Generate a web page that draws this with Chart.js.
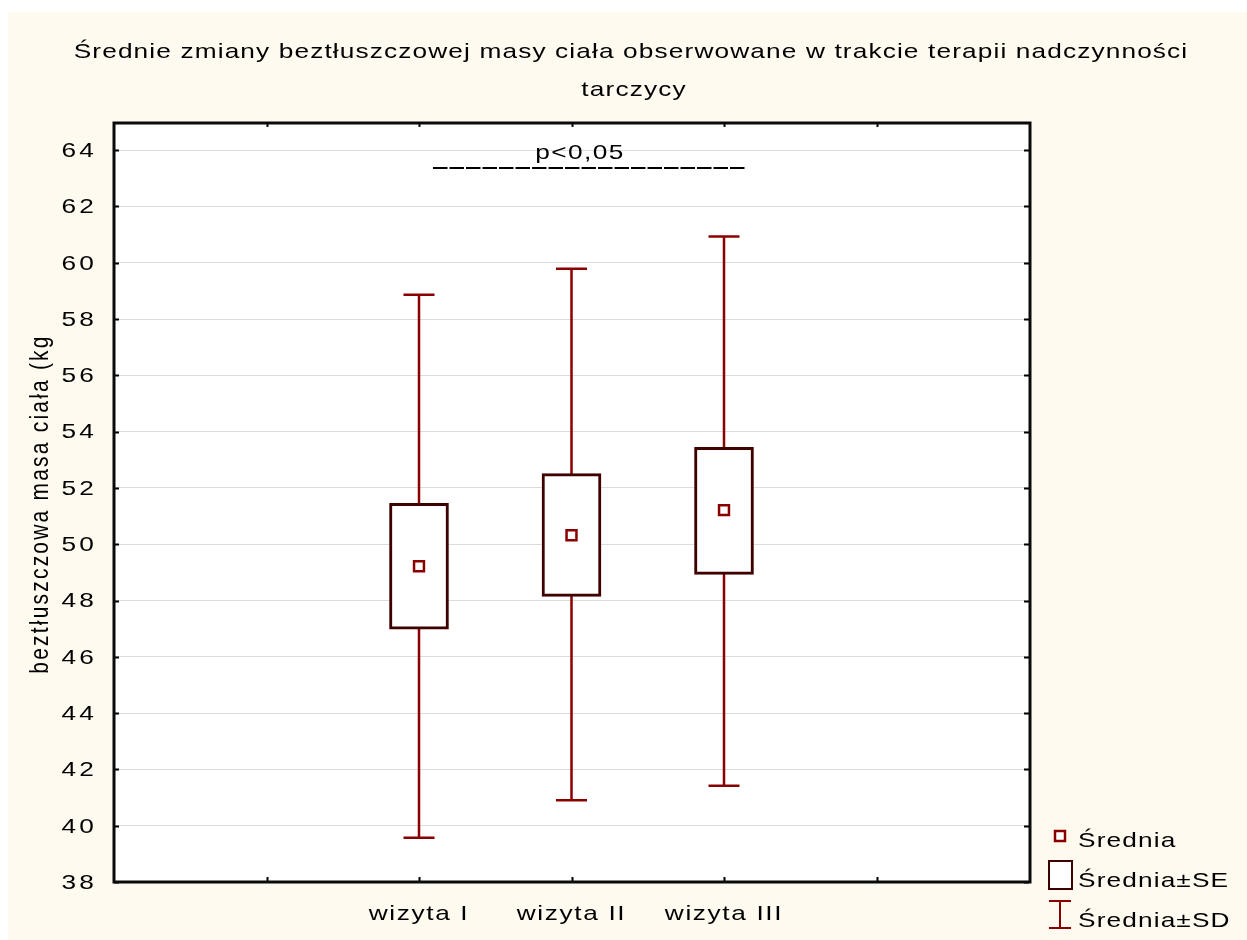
<!DOCTYPE html>
<html><head><meta charset="utf-8">
<script src="https://cdn.jsdelivr.net/npm/chart.js@4.4.1/dist/chart.umd.min.js"></script>
<style>html,body{margin:0;padding:0;background:#fff;overflow:hidden}canvas{display:block}</style>
</head><body>
<canvas id="c" width="1247" height="940"></canvas>
<script>
// ---- data ----
const titleLines = ['Średnie zmiany beztłuszczowej masy ciała obserwowane w trakcie terapii nadczynności', 'tarczycy'];
const yAxisTitle = 'beztłuszczowa masa ciała (kg';
const categories = ['wizyta I', 'wizyta II', 'wizyta III'];
const means  = [49.22, 50.32, 51.21];
const seLow  = [46.98, 48.15, 48.93];
const seHigh = [51.45, 52.51, 53.44];
const sdLow  = [39.57, 40.90, 41.42];
const sdHigh = [58.86, 59.79, 60.93];
const yTicks = [38, 40, 42, 44, 46, 48, 50, 52, 54, 56, 58, 60, 62, 64];
const yMin = 38, yMax = 65;
const legendLabels = ['Średnia', 'Średnia±SE', 'Średnia±SD'];
const annotationText = 'p<0,05';

// two empty slots on each side of the categories
const emptySlots = ['', ''];
const xLabels = [...emptySlots, ...categories, ...emptySlots];
const pad = v => [...emptySlots.map(() => null), ...v, ...emptySlots.map(() => null)];

const FONT = "'Liberation Sans', Arial, sans-serif";
const SX = 1.25;          // horizontal stretch of the lettering
const C_WHISK = '#8a0000';
const C_BOX = '#3f0000';
const C_MEAN = '#8a0000';

function txt(ctx, s, x, y, o) {
  ctx.save();
  ctx.font = `${o.size || 21}px ${FONT}`;
  ctx.letterSpacing = (o.spacing != null ? o.spacing : 1) + 'px';
  ctx.textAlign = o.align || 'left';
  ctx.textBaseline = o.baseline || 'alphabetic';
  ctx.fillStyle = '#000';
  ctx.translate(x, y);
  if (o.rotate) ctx.rotate(o.rotate);
  ctx.scale(o.sx || SX, o.sy || 1);
  ctx.fillText(s, 0, 0);
  ctx.restore();
}

const deco = {
  id: 'deco',
  beforeDraw(chart) {
    const {ctx, chartArea: a} = chart;
    ctx.save();
    ctx.fillStyle = '#ffffff';
    ctx.fillRect(0, 0, chart.width, chart.height);
    ctx.fillStyle = '#fffaf0';
    ctx.fillRect(8, 12, chart.width - 8, chart.height - 12);
    ctx.fillStyle = '#ffffff';
    ctx.fillRect(a.left, a.top, a.right - a.left, a.bottom - a.top);
    ctx.restore();
  },
  beforeDatasetsDraw(chart) {
    const {ctx} = chart;
    const xs = chart.scales.x, ys = chart.scales.y;
    ctx.save();
    ctx.strokeStyle = C_WHISK;
    ctx.lineWidth = 2.5;
    categories.forEach((c, i) => {
      const x = xs.getPixelForValue(i + emptySlots.length);
      const y1 = ys.getPixelForValue(sdHigh[i]);
      const y2 = ys.getPixelForValue(sdLow[i]);
      ctx.beginPath();
      ctx.moveTo(x, y1); ctx.lineTo(x, y2);
      ctx.moveTo(x - 15.5, y1); ctx.lineTo(x + 15.5, y1);
      ctx.moveTo(x - 15.5, y2); ctx.lineTo(x + 15.5, y2);
      ctx.stroke();
    });
    ctx.restore();
  },
  afterDatasetsDraw(chart) {
    const {ctx, chartArea: a} = chart;
    const xs = chart.scales.x, ys = chart.scales.y;
    ctx.save();
    ctx.strokeStyle = '#000';
    ctx.lineWidth = 2;
    ctx.beginPath();
    yTicks.forEach(v => {
      const y = Math.round(ys.getPixelForValue(v)) + 0.5;
      ctx.moveTo(a.left, y); ctx.lineTo(a.left + 5, y);
      ctx.moveTo(a.right, y); ctx.lineTo(a.right - 5, y);
    });
    for (let i = 1; i < xLabels.length - 1; i++) {
      const x = Math.round(xs.getPixelForValue(i)) + 0.5;
      ctx.moveTo(x, a.bottom); ctx.lineTo(x, a.bottom - 5);
      ctx.moveTo(x, a.top); ctx.lineTo(x, a.top + 5);
    }
    ctx.stroke();
    ctx.lineWidth = 3;
    ctx.strokeStyle = '#0a0a0a';
    ctx.strokeRect(a.left, a.top + 1, a.right - a.left + 1, a.bottom - a.top - 1);
    ctx.restore();
  },
  afterDraw(chart) {
    const {ctx} = chart;
    const xs = chart.scales.x, ys = chart.scales.y;

    // title
    txt(ctx, titleLines[0], 631, 58, {align: 'center', spacing: 0.9});
    txt(ctx, titleLines[1], 634, 96, {align: 'center', spacing: 0.9});

    // y tick labels (positions from the y scale)
    ys.ticks.forEach(t => {
      txt(ctx, String(t.value), 97, ys.getPixelForValue(t.value) + 1,
          {align: 'right', baseline: 'middle', spacing: 2.5});
    });
    // x tick labels (positions from the x scale)
    xLabels.forEach((l, i) => {
      if (l) txt(ctx, l, xs.getPixelForValue(i), 920, {align: 'center', spacing: 1.3});
    });
    // y axis title
    txt(ctx, yAxisTitle, 48, (chart.chartArea.top + chart.chartArea.bottom) / 2 + 2,
        {align: 'center', rotate: -Math.PI / 2, sx: 1, sy: SX, spacing: 2.2});

    // annotation over the groups
    txt(ctx, annotationText, 580, 159, {align: 'center', spacing: 1.1});
    ctx.save();
    ctx.strokeStyle = '#000';
    ctx.lineWidth = 2;
    ctx.setLineDash([14.5, 2]);
    ctx.beginPath();
    ctx.moveTo(433, 168); ctx.lineTo(745, 168);
    ctx.stroke();
    ctx.restore();

    // legend
    const lx = 1060, tx = 1078;
    const rows = [836, 876, 915];
    const base = [847, 887, 927];
    legendLabels.forEach((t, i) => txt(ctx, t, tx, base[i], {spacing: 0.9}));
    ctx.save();
    ctx.fillStyle = '#fff';
    ctx.strokeStyle = C_MEAN; ctx.lineWidth = 2.5;
    ctx.fillRect(lx - 5, rows[0] - 5, 10, 10);
    ctx.strokeRect(lx - 5, rows[0] - 5, 10, 10);
    ctx.strokeStyle = C_BOX; ctx.lineWidth = 2;
    ctx.fillRect(lx - 11, rows[1] - 15, 23, 28);
    ctx.strokeRect(lx - 11, rows[1] - 15, 23, 28);
    ctx.strokeStyle = C_WHISK; ctx.lineWidth = 2;
    ctx.beginPath();
    ctx.moveTo(lx, rows[2] - 14); ctx.lineTo(lx, rows[2] + 13);
    ctx.moveTo(lx - 11, rows[2] - 14); ctx.lineTo(lx + 11, rows[2] - 14);
    ctx.moveTo(lx - 11, rows[2] + 13); ctx.lineTo(lx + 11, rows[2] + 13);
    ctx.stroke();
    ctx.restore();
  }
};

new Chart(document.getElementById('c'), {
  type: 'bar',
  data: {
    labels: xLabels,
    datasets: [
      {
        type: 'line',
        label: legendLabels[0],
        data: pad(means),
        showLine: false,
        pointStyle: 'rect',
        pointRadius: 7,
        pointHoverRadius: 7,
        pointBorderWidth: 2.5,
        pointBorderColor: C_MEAN,
        pointBackgroundColor: '#fff',
        order: 0
      },
      {
        type: 'bar',
        label: legendLabels[1],
        data: pad(categories.map((c, i) => [seLow[i], seHigh[i]])),
        backgroundColor: '#fff',
        borderColor: C_BOX,
        borderWidth: 3,
        borderSkipped: false,
        barThickness: 59,
        grouped: false,
        order: 1
      }
    ]
  },
  options: {
    responsive: false,
    devicePixelRatio: 1,
    animation: false,
    events: [],
    layout: {padding: {top: 122, right: 218, left: 0, bottom: 0}},
    plugins: {legend: {display: false}, tooltip: {enabled: false}, title: {display: false}},
    scales: {
      x: {
        type: 'category',
        offset: false,
        grid: {display: false, drawTicks: false, offset: false},
        border: {display: false},
        ticks: {display: false, autoSkip: false},
        afterFit(s) { s.height = 58; }
      },
      y: {
        min: yMin, max: yMax,
        grid: {color: '#dcdcdc', lineWidth: 1, drawTicks: false},
        border: {display: false},
        afterBuildTicks(s) { s.ticks = yTicks.map(v => ({value: v})); },
        ticks: {display: false},
        title: {display: false},
        afterFit(s) { s.width = 114; }
      }
    }
  },
  plugins: [deco]
});
</script>
</body></html>
